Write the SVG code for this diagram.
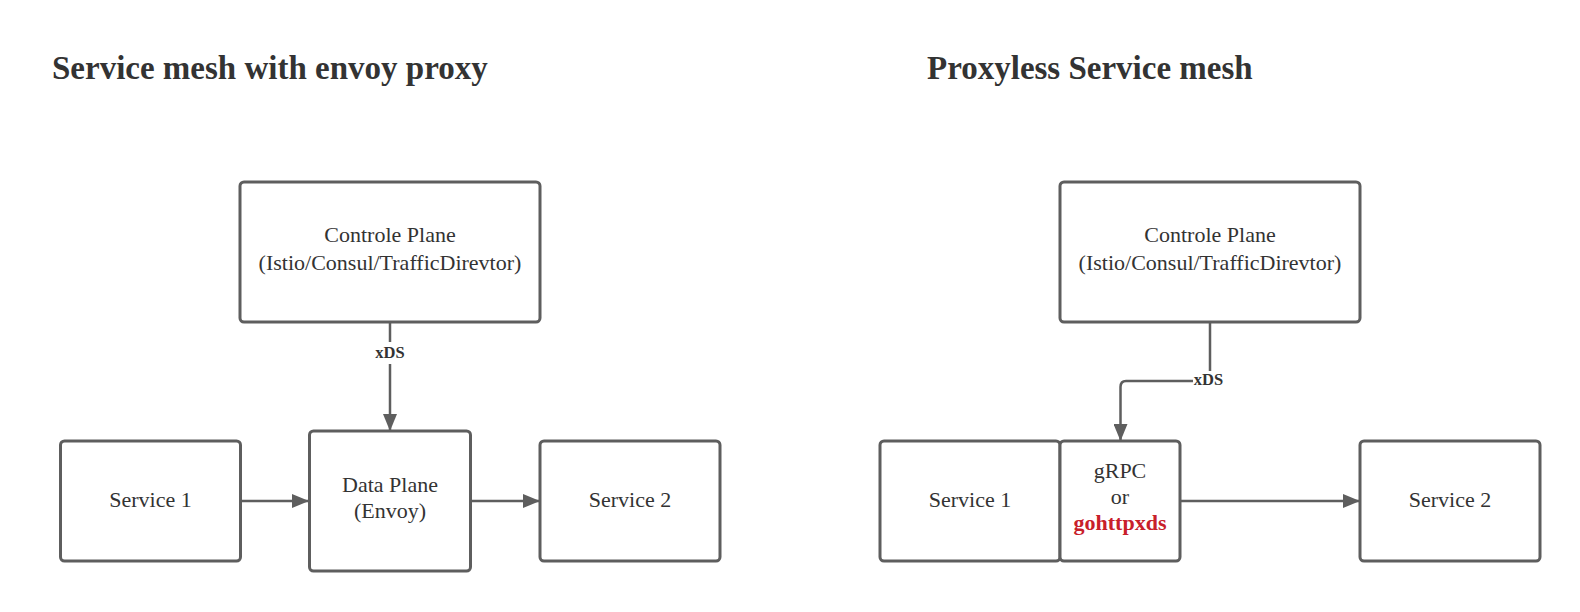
<svg xmlns="http://www.w3.org/2000/svg" width="1580" height="612" viewBox="0 0 1580 612">
<defs>
<style>
.box{fill:#ffffff;stroke:#5e5e5e;stroke-width:3}
.ln{fill:none;stroke:#5e5e5e;stroke-width:2.5}
.t{font-family:"Liberation Serif","Times New Roman",serif;font-size:22px;fill:#333333;text-anchor:middle}
.title{font-family:"Liberation Serif","Times New Roman",serif;font-size:33px;font-weight:bold;fill:#333333}
.lbl{font-family:"Liberation Serif","Times New Roman",serif;font-size:16.5px;font-weight:bold;fill:#333333;text-anchor:middle}
.red{fill:#c8202a;font-weight:bold}
</style>
<marker id="arr" markerUnits="userSpaceOnUse" markerWidth="17" markerHeight="14" refX="16" refY="7" orient="auto">
<path d="M0,0 L17,7 L0,14 Z" fill="#5e5e5e"/>
</marker>
</defs>
<rect width="1580" height="612" fill="#ffffff"/>
<text class="title" x="52" y="79">Service mesh with envoy proxy</text>
<text class="title" x="927" y="79">Proxyless Service mesh</text>
<g id="connectors">
<path class="ln" d="M390,322 V430" marker-end="url(#arr)"/>
<path class="ln" d="M241,501 H308" marker-end="url(#arr)"/>
<path class="ln" d="M470,501 H539" marker-end="url(#arr)"/>
<path class="ln" d="M1210,322 V381 H1126 Q1120.5,381 1120.5,387 V440" marker-end="url(#arr)"/>
<path class="ln" d="M1180,501 H1359" marker-end="url(#arr)"/>
<rect x="376" y="342" width="28" height="22" fill="#ffffff"/>
<text class="lbl" x="390" y="357.5">xDS</text>
<rect x="1193" y="371" width="31" height="18" fill="#ffffff"/>
<text class="lbl" x="1208.5" y="384.5">xDS</text>
</g>
<g id="cp-left">
<rect class="box" x="240" y="182" width="300" height="140" rx="4"/>
<text class="t" x="390" y="242">Controle Plane</text>
<text class="t" x="390" y="270">(Istio/Consul/TrafficDirevtor)</text>
</g>
<g id="data-plane">
<rect class="box" x="309.5" y="431" width="161" height="140" rx="4"/>
<text class="t" x="390" y="492">Data Plane</text>
<text class="t" x="390" y="518">(Envoy)</text>
</g>
<g id="svc1-left">
<rect class="box" x="60.5" y="441" width="180" height="120" rx="4"/>
<text class="t" x="150.5" y="507">Service 1</text>
</g>
<g id="svc2-left">
<rect class="box" x="540" y="441" width="180" height="120" rx="4"/>
<text class="t" x="630" y="507">Service 2</text>
</g>
<g id="cp-right">
<rect class="box" x="1060" y="182" width="300" height="140" rx="4"/>
<text class="t" x="1210" y="242">Controle Plane</text>
<text class="t" x="1210" y="270">(Istio/Consul/TrafficDirevtor)</text>
</g>
<g id="svc1-right">
<rect class="box" x="880" y="441" width="180" height="120" rx="4"/>
<text class="t" x="970" y="507">Service 1</text>
</g>
<g id="grpc">
<rect class="box" x="1060" y="441" width="120" height="120" rx="4"/>
<text class="t" x="1120" y="478">gRPC</text>
<text class="t" x="1120" y="504">or</text>
<text class="t red" x="1120" y="530">gohttpxds</text>
</g>
<g id="svc2-right">
<rect class="box" x="1360" y="441" width="180" height="120" rx="4"/>
<text class="t" x="1450" y="507">Service 2</text>
</g>
</svg>
